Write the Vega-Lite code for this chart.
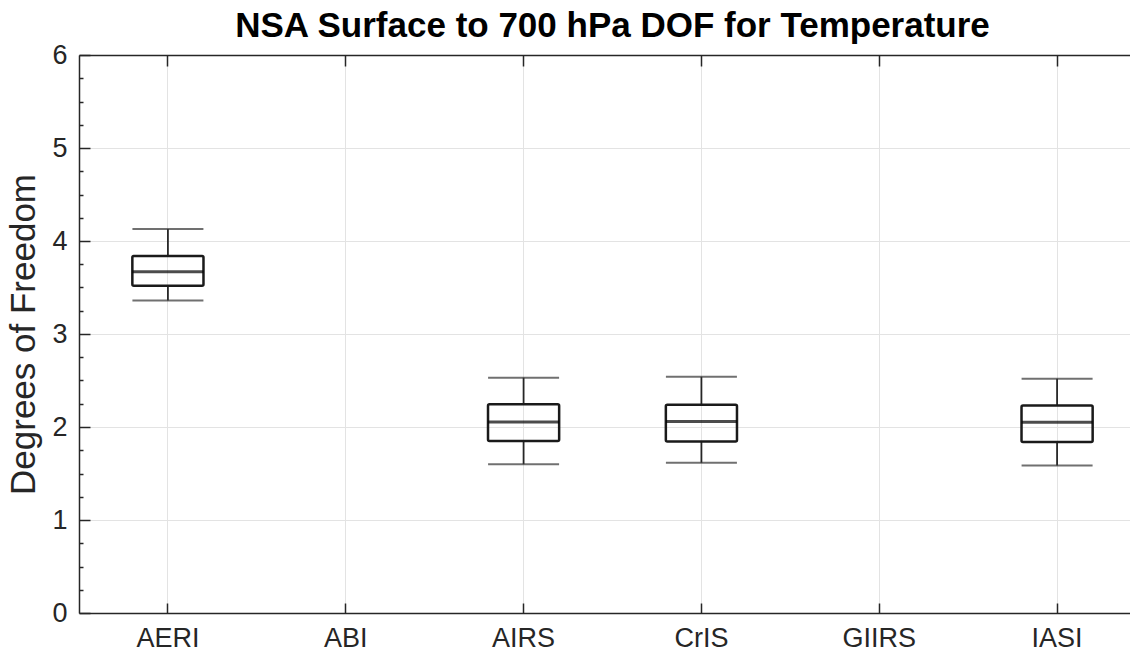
{
  "$schema": "https://vega.github.io/schema/vega-lite/v6.json",
  "width": 1051,
  "height": 558,
  "autosize": {"type": "none"},
  "padding": {"left": 79, "top": 55, "right": 0, "bottom": 44},
  "background": "white",
  "config": {
    "view": {"stroke": null},
    "font": "Liberation Sans",
    "axis": {
      "domainColor": "#262626",
      "domainWidth": 1.5,
      "tickColor": "#262626",
      "tickWidth": 1.5,
      "labelColor": "#262626",
      "labelFont": "Liberation Sans",
      "labelFontSize": 27,
      "titleFont": "Liberation Sans",
      "gridColor": "#e3e3e3",
      "gridWidth": 1
    }
  },
  "title": {
    "text": "NSA Surface to 700 hPa DOF for Temperature",
    "font": "Liberation Sans",
    "fontSize": 35,
    "fontWeight": "bold",
    "color": "#000000",
    "anchor": "middle",
    "offset": -3,
    "dx": 8
  },
  "data": {
    "values": [
      {"instrument": "AERI", "lower": 3.36, "q1": 3.52, "median": 3.67, "q3": 3.84, "upper": 4.13},
      {"instrument": "AIRS", "lower": 1.6, "q1": 1.85, "median": 2.055, "q3": 2.245, "upper": 2.53},
      {"instrument": "CrIS", "lower": 1.615, "q1": 1.845, "median": 2.06, "q3": 2.24, "upper": 2.54},
      {"instrument": "IASI", "lower": 1.585, "q1": 1.84, "median": 2.05, "q3": 2.23, "upper": 2.52}
    ]
  },
  "resolve": {"axis": {"x": "independent", "y": "independent"}},
  "layer": [
    {
      "mark": {"type": "rule", "color": "#262626", "strokeWidth": 1.8},
      "encoding": {
        "x": {
          "field": "instrument", "type": "nominal", "sort": null,
          "scale": {"domain": ["AERI", "ABI", "AIRS", "CrIS", "GIIRS", "IASI"], "range": [0, 1067], "paddingInner": 0, "paddingOuter": 0},
          "axis": {"orient": "bottom", "title": null, "grid": true, "tickSize": -10, "labelPadding": 22, "labelAngle": 0}
        },
        "y": {
          "field": "lower", "type": "quantitative",
          "scale": {"domain": [0, 6], "nice": false, "zero": true},
          "axis": {"orient": "left", "values": [0, 1, 2, 3, 4, 5, 6], "grid": true, "tickSize": -11, "labelPadding": 23,
                   "title": "Degrees of Freedom", "titleFontSize": 35, "titleFontWeight": "normal", "titleColor": "#262626", "titlePadding": 10}
        },
        "y2": {"field": "q1"}
      }
    },
    {
      "mark": {"type": "rule", "color": "#262626", "strokeWidth": 1.8},
      "encoding": {
        "x": {
          "field": "instrument", "type": "nominal", "sort": null,
          "axis": {"orient": "top", "title": null, "labels": false, "grid": false, "tickSize": -11}
        },
        "y": {
          "field": "q3", "type": "quantitative",
          "axis": {"orient": "left", "title": null, "labels": false, "grid": false, "domain": false, "tickSize": -4,
                   "values": [0.25, 0.5, 0.75, 1.25, 1.5, 1.75, 2.25, 2.5, 2.75, 3.25, 3.5, 3.75, 4.25, 4.5, 4.75, 5.25, 5.5, 5.75]}
        },
        "y2": {"field": "upper"}
      }
    },
    {
      "mark": {"type": "bar", "fill": null, "fillOpacity": 0, "stroke": "#1a1a1a", "strokeWidth": 2.5, "cornerRadius": 1.5, "width": {"band": 0.4}},
      "encoding": {
        "x": {"field": "instrument", "type": "nominal", "sort": null, "axis": null},
        "y": {"field": "q1", "type": "quantitative", "axis": null},
        "y2": {"field": "q3"}
      }
    },
    {
      "mark": {"type": "tick", "color": "#333333", "thickness": 2, "size": 71},
      "encoding": {
        "x": {"field": "instrument", "type": "nominal", "sort": null, "axis": null},
        "y": {"field": "lower", "type": "quantitative", "axis": null}
      }
    },
    {
      "mark": {"type": "tick", "color": "#333333", "thickness": 2, "size": 71},
      "encoding": {
        "x": {"field": "instrument", "type": "nominal", "sort": null, "axis": null},
        "y": {"field": "upper", "type": "quantitative", "axis": null}
      }
    },
    {
      "mark": {"type": "tick", "color": "#000000", "thickness": 3, "size": 71},
      "encoding": {
        "x": {"field": "instrument", "type": "nominal", "sort": null, "axis": null},
        "y": {"field": "median", "type": "quantitative", "axis": null}
      }
    }
  ]
}
